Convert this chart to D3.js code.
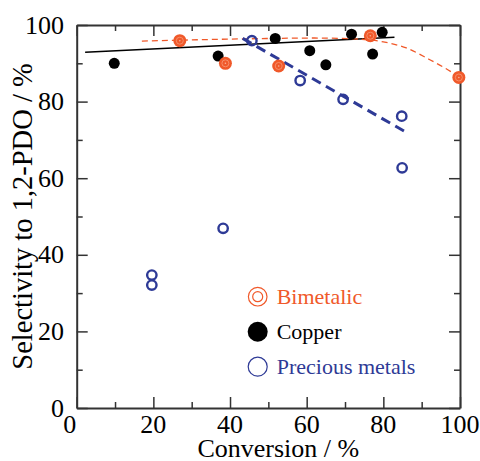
<!DOCTYPE html>
<html>
<head>
<meta charset="utf-8">
<script src="https://cdn.jsdelivr.net/npm/d3@7"></script>
<style>
  body { margin: 0; background: #fff; }
  svg { display: block; }
</style>
</head>
<body>
<svg id="chart" width="480" height="461" viewBox="0 0 480 461"></svg>
<script>
// Data
const copper_conv = [9.8, 36.9, 51.8, 60.8, 65.0, 71.7, 77.2, 79.7];
const copper_sel = [90.0, 91.9, 96.5, 93.3, 89.6, 97.6, 92.4, 98.1];

const bimetal_conv = [26.9, 38.8, 52.7, 76.6, 99.7];
const bimetal_sel = [95.9, 90.0, 89.3, 97.2, 86.3];

const precious_conv = [45.7, 58.3, 69.5, 84.8, 84.9, 38.2, 19.6, 19.6];
const precious_sel = [95.9, 85.5, 80.6, 76.2, 62.7, 46.9, 34.7, 32.1];

// trend lines
const copper_fit_conv = [2.2, 82.9];
const copper_fit_sel = [92.9, 96.8];
const bimetal_fit_conv = [17, 45, 62, 72, 80, 86, 92, 96, 100];
const bimetal_fit_sel = [95.8, 96.4, 96.6, 96.4, 95.6, 94.0, 91.0, 88.8, 86.3];
const precious_fit_conv = [43.3, 86.1];
const precious_fit_sel = [96.5, 71.9];

const x_ticks = [0, 20, 40, 60, 80, 100];
const y_ticks = [0, 20, 40, 60, 80, 100];
const legend_labels = ["Bimetalic", "Copper", "Precious metals"];

const orange = "#f0592a";
const blue = "#2e3a96";
const frame = "#333";
const serif = '"Liberation Serif", "Times New Roman", Times, serif';

const svg = d3.select('#chart');
const plot_left = 76.7, plot_right = 460, plot_top = 25, plot_bottom = 408;

const x_scale = d3.scaleLinear().domain([0, 100]).range([plot_left, plot_right]);
const y_scale = d3.scaleLinear().domain([0, 100]).range([plot_bottom, plot_top]);

const zip = (a, b) => a.map((v, i) => [v, b[i]]);

// frame + ticks (inward on all sides)
const minor = d3.range(0, 101, 10);
function drawAxis(axis, transform) {
    const g = svg.append('g').attr('transform', transform).call(axis);
    g.select('.domain').attr('stroke', frame).attr('stroke-width', 2);
    g.selectAll('.tick line').attr('stroke', frame).attr('stroke-width', 1.5);
    return g;
}
const bottomAxis = drawAxis(
    d3.axisBottom(x_scale).tickValues(minor).tickSizeInner(0).tickSizeOuter(0).tickFormat(''),
    "translate(0," + plot_bottom + ")");
bottomAxis.selectAll('.tick line').attr('y2', d => d % 20 === 0 ? -11 : -6);
const topAxis = drawAxis(
    d3.axisTop(x_scale).tickValues(minor).tickSizeInner(0).tickSizeOuter(0).tickFormat(''),
    "translate(0," + plot_top + ")");
topAxis.selectAll('.tick line').attr('y2', d => d % 20 === 0 ? 11 : 6);
const leftAxis = drawAxis(
    d3.axisLeft(y_scale).tickValues(minor).tickSizeInner(0).tickSizeOuter(0).tickFormat(''),
    "translate(" + plot_left + ",0)");
leftAxis.selectAll('.tick line').attr('x2', d => d % 20 === 0 ? 11 : 6);
const rightAxis = drawAxis(
    d3.axisRight(y_scale).tickValues(minor).tickSizeInner(0).tickSizeOuter(0).tickFormat(''),
    "translate(" + plot_right + ",0)");
rightAxis.selectAll('.tick line').attr('x2', d => d % 20 === 0 ? -11 : -6);

// tick labels
svg.append('g').selectAll('text')
    .data(x_ticks)
    .enter()
    .append('text')
    .attr('x', d => x_scale(d) - (d === 0 ? 7 : 0))
    .attr('y', 432.5)
    .attr('text-anchor', 'middle')
    .style('font-family', serif)
    .style('font-size', '26px')
    .text(d => d);
svg.append('g').selectAll('text')
    .data(y_ticks)
    .enter()
    .append('text')
    .attr('x', 64)
    .attr('y', d => y_scale(d) + 8.6)
    .attr('text-anchor', 'end')
    .style('font-family', serif)
    .style('font-size', '26px')
    .text(d => d);

// axis titles
svg.append('text')
    .attr('x', (plot_left + plot_right) / 2 + 10)
    .attr('y', 457)
    .attr('text-anchor', 'middle')
    .style('font-family', serif)
    .style('font-size', '26px')
    .text('Conversion / %');
svg.append('text')
    .attr('transform', 'translate(32,' + (plot_bottom + plot_top) / 2 + ') rotate(-90)')
    .attr('text-anchor', 'middle')
    .style('font-family', serif)
    .style('font-size', '28.5px')
    .text('Selectivity to 1,2-PDO / %');

// trend lines
const line = d3.line().x(d => x_scale(d[0])).y(d => y_scale(d[1]));
const curve = d3.line().x(d => x_scale(d[0])).y(d => y_scale(d[1])).curve(d3.curveMonotoneX);
svg.append('path')
    .attr('d', line(zip(copper_fit_conv, copper_fit_sel)))
    .attr('fill', 'none').attr('stroke', '#000').attr('stroke-width', 1.5);
svg.append('path')
    .attr('d', curve(zip(bimetal_fit_conv, bimetal_fit_sel)))
    .attr('fill', 'none').attr('stroke', orange).attr('stroke-width', 1.3)
    .attr('stroke-dasharray', '6,4');
svg.append('path')
    .attr('d', line(zip(precious_fit_conv, precious_fit_sel)))
    .attr('fill', 'none').attr('stroke', blue).attr('stroke-width', 3)
    .attr('stroke-dasharray', '10,6');

// copper points
svg.append('g').selectAll('circle')
    .data(zip(copper_conv, copper_sel))
    .enter()
    .append('circle')
    .attr('cx', d => x_scale(d[0]))
    .attr('cy', d => y_scale(d[1]))
    .attr('r', 5.5)
    .attr('fill', '#000');

// bimetalic points
const bim = svg.append('g').selectAll('g')
    .data(zip(bimetal_conv, bimetal_sel))
    .enter()
    .append('g')
    .attr('transform', d => 'translate(' + x_scale(d[0]) + ',' + y_scale(d[1]) + ')');
bim.append('circle').attr('r', 6.5).attr('fill', orange);
bim.append('circle').attr('r', 3.5).attr('fill', 'none').attr('stroke', '#f79a78').attr('stroke-width', 0.8);
bim.append('circle').attr('r', 0.8).attr('fill', '#f9b49a');

// precious metal points
svg.append('g').selectAll('circle')
    .data(zip(precious_conv, precious_sel))
    .enter()
    .append('circle')
    .attr('cx', d => x_scale(d[0]))
    .attr('cy', d => y_scale(d[1]))
    .attr('r', 4.7)
    .attr('fill', 'none')
    .attr('stroke', blue)
    .attr('stroke-width', 2.4);

// legend
const legend = svg.append('g').attr('transform', 'translate(257.7,296.7)');
const rows = legend.selectAll('g')
    .data(legend_labels)
    .enter()
    .append('g')
    .attr('transform', (d, i) => 'translate(0,' + i * 35 + ')');
rows.append('text')
    .attr('x', 19)
    .attr('y', 7.5)
    .style('font-family', serif)
    .style('font-size', '22px')
    .attr('fill', (d, i) => [orange, '#000', blue][i])
    .text(d => d);
const r0 = rows.filter((d, i) => i === 0);
r0.append('circle').attr('r', 9.3).attr('fill', 'none').attr('stroke', orange).attr('stroke-width', 1.2);
r0.append('circle').attr('r', 5).attr('fill', 'none').attr('stroke', orange).attr('stroke-width', 1.2);
rows.filter((d, i) => i === 1).append('circle').attr('r', 10).attr('fill', '#000');
rows.filter((d, i) => i === 2).append('circle').attr('r', 9.5)
    .attr('fill', 'none').attr('stroke', blue).attr('stroke-width', 1.2);
</script>
</body>
</html>
